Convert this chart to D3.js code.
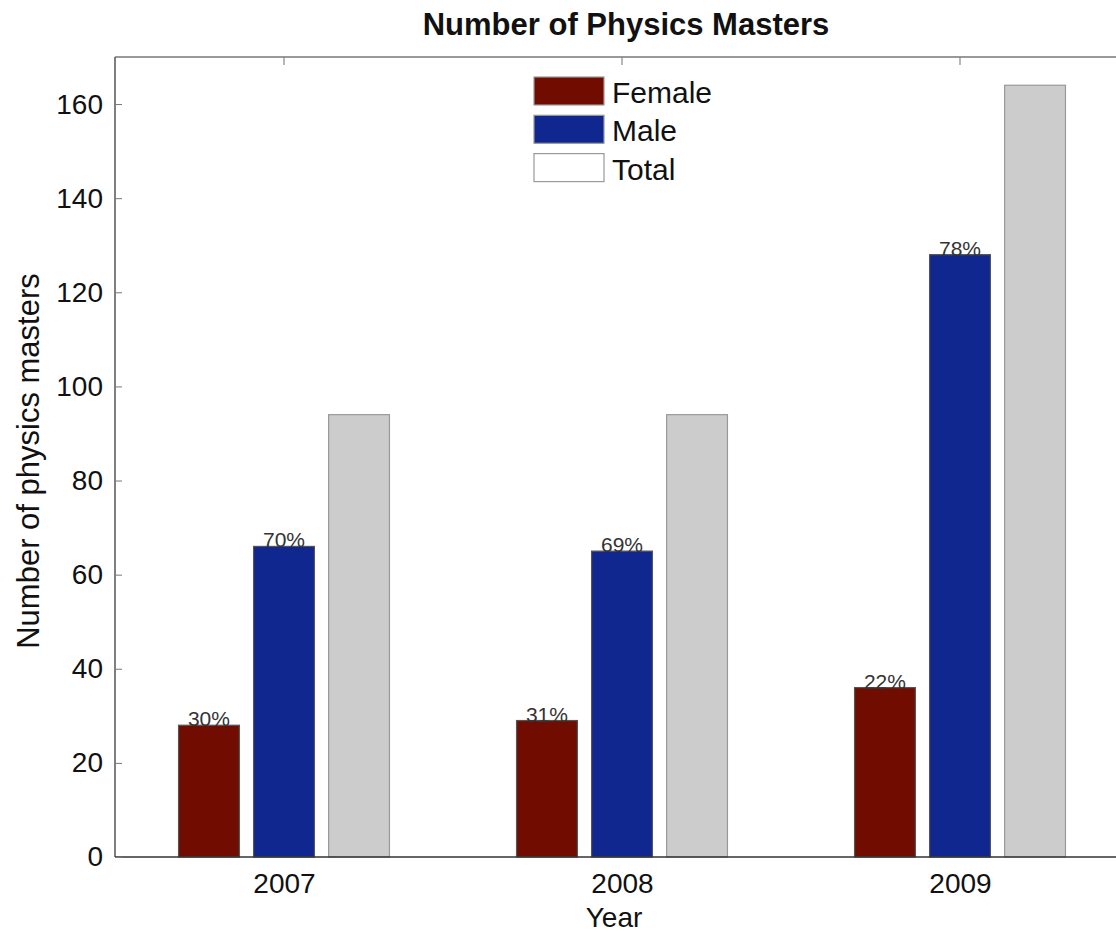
<!DOCTYPE html>
<html><head><meta charset="utf-8">
<script src="https://cdn.jsdelivr.net/npm/d3@7"></script>
<style>body{margin:0;background:#fff;} svg{display:block;font-family:"Liberation Sans",Arial,Helvetica,sans-serif;}</style>
</head><body>
<script>
const years = ["2007","2008","2009"];
const female = [28, 29, 36];
const male = [66, 65, 128];
const total = [94, 94, 164];
const femalePct = ["30%","31%","22%"];
const malePct = ["70%","69%","78%"];
const seriesNames = ["Female","Male","Total"];
const seriesColors = ["#700d00","#10278f","#cccccc"];
const yTicks = [0,20,40,60,80,100,120,140,160];

const W = 1116, H = 932;
const svg = d3.select("body").append("svg").attr("width", W).attr("height", H);
const L = 115, T = 57, B = 857, R = 1129;

const x = d3.scaleLinear().domain([0.5, 3.5]).range([L, R]);
const y = d3.scaleLinear().domain([0, 170]).range([B, T]);
const offsets = [-0.222, 0, 0.222];
const bw = 0.18;
const bwPx = x(bw) - x(0);

const series = [female, male, total];
const g = svg.append("g");
series.forEach((vals, si) => {
  g.selectAll(null).data(vals).enter().append("rect")
    .attr("x", (d,i) => x(i+1+offsets[si]) - bwPx/2)
    .attr("y", d => y(d))
    .attr("width", bwPx)
    .attr("height", d => y(0) - y(d))
    .attr("fill", seriesColors[si])
    .attr("stroke", si===2 ? "#999" : "#555")
    .attr("stroke-width", 1.2);
});

// percentage labels
[[female, femalePct, 0],[male, malePct, 1]].forEach(([vals, pcts, si]) => {
  g.selectAll(null).data(vals).enter().append("text")
    .attr("x", (d,i) => x(i+1+offsets[si]))
    .attr("y", d => y(d) + 1)
    .attr("text-anchor","middle")
    .attr("font-size", 21)
    .attr("fill", "#333")
    .text((d,i) => pcts[i]);
});

// frame lines
svg.append("line").attr("x1",L).attr("x2",R).attr("y1",T).attr("y2",T).attr("stroke","#777").attr("stroke-width",1.5);
svg.append("line").attr("x1",L).attr("x2",L).attr("y1",T).attr("y2",B).attr("stroke","#555").attr("stroke-width",1.5);
svg.append("line").attr("x1",L).attr("x2",R).attr("y1",B).attr("y2",B).attr("stroke","#333").attr("stroke-width",1.5);

// y axis
const yAxis = d3.axisLeft(y).tickValues(yTicks).tickSize(-7).tickPadding(12);
const ya = svg.append("g").attr("transform",`translate(${L},0)`).call(yAxis);
ya.select(".domain").remove();
ya.selectAll(".tick line").attr("stroke","#777");
ya.selectAll(".tick text").attr("font-size",28).attr("fill","#111").attr("font-family","Liberation Sans, Arial, sans-serif");

// x axis
const xAxis = d3.axisBottom(x).tickValues([1,2,3]).tickFormat((d)=>years[d-1]).tickSize(0).tickPadding(16);
const xa = svg.append("g").attr("transform",`translate(0,${B})`).call(xAxis);
xa.select(".domain").remove();
xa.selectAll(".tick text").attr("font-size",28).attr("fill","#111").attr("font-family","Liberation Sans, Arial, sans-serif");

// top ticks
svg.selectAll(null).data([1,2,3]).enter().append("line")
  .attr("x1", d=>x(d)).attr("x2", d=>x(d)).attr("y1",T).attr("y2",T+8)
  .attr("stroke","#888").attr("stroke-width",1.2);

// title and labels
svg.append("text").attr("x",626).attr("y",35).attr("text-anchor","middle")
  .attr("font-size",31).attr("font-weight","bold").attr("fill","#111").text("Number of Physics Masters");
svg.append("text").attr("x",614).attr("y",927).attr("text-anchor","middle")
  .attr("font-size",28).attr("fill","#111").text("Year");
svg.append("text").attr("transform","translate(39,461) rotate(-90)").attr("text-anchor","middle")
  .attr("font-size",31).attr("fill","#111").text("Number of physics masters");

// legend
const leg = svg.append("g");
const legColors = ["#700d00","#10278f","#ffffff"];
seriesNames.forEach((n,i) => {
  const yy = 77 + i*38.3;
  leg.append("rect").attr("x",534).attr("y",yy).attr("width",70).attr("height",28)
    .attr("fill",legColors[i]).attr("stroke","#999").attr("stroke-width",1.2);
  leg.append("text").attr("x",612).attr("y",yy+26).attr("font-size",30).attr("fill","#111").text(n);
});
</script>
</body></html>
